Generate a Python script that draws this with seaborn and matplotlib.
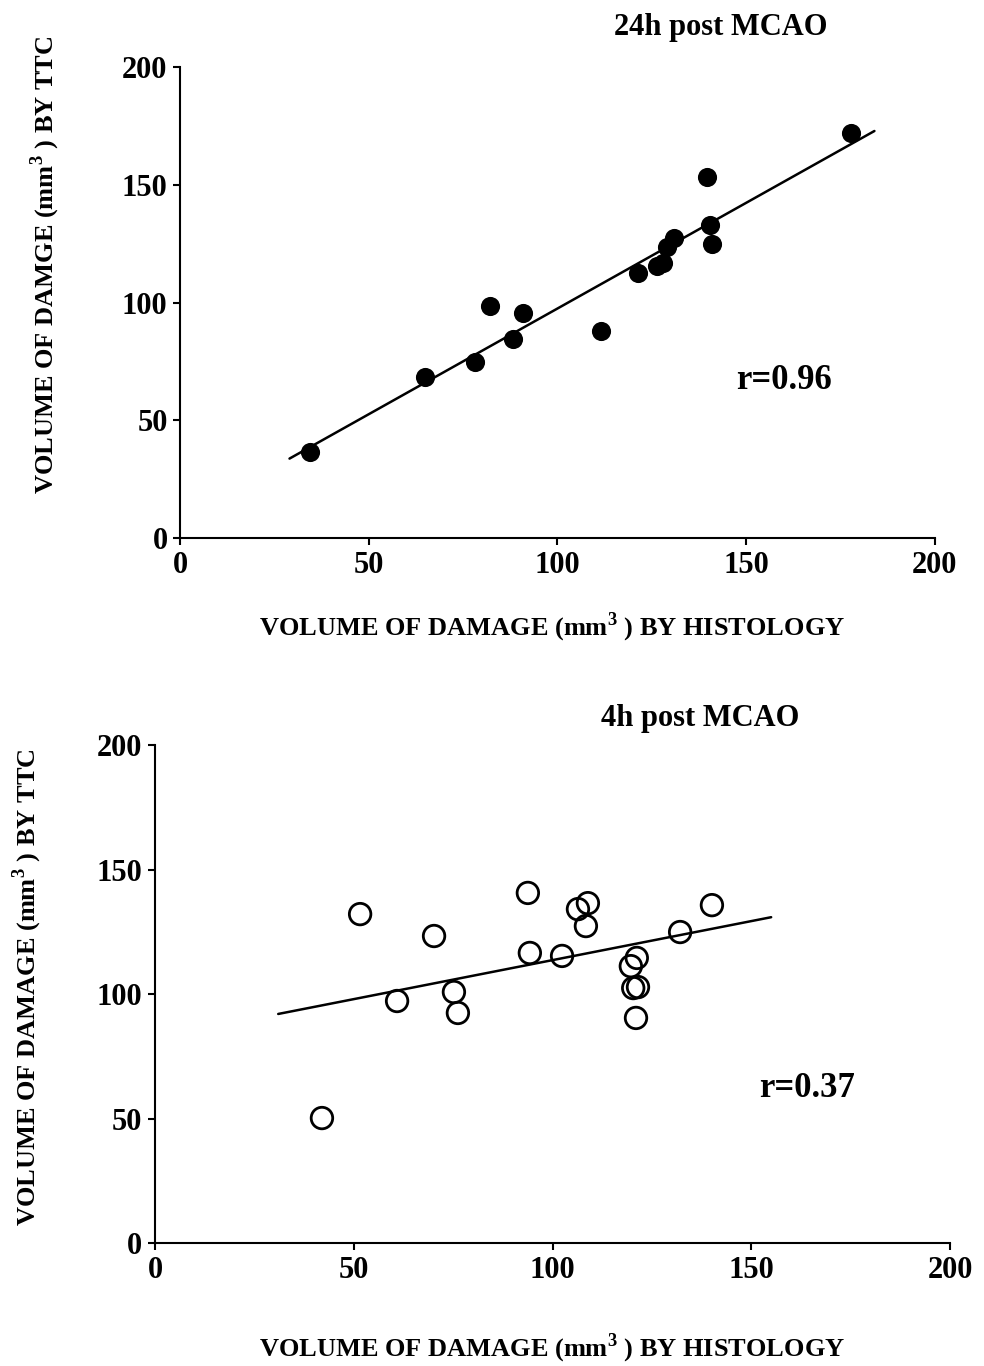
import numpy as np
import pandas as pd
import seaborn as sns
import matplotlib.pyplot as plt

# 24h post MCAO (filled circles)
hist_24h = [34.4, 64.9, 78.1, 82.1, 88.2, 90.9, 111.5, 121.3, 126.4, 128.0,
            129.0, 130.9, 139.6, 140.4, 140.9, 177.7]
ttc_24h = [36.5, 68.4, 74.7, 98.5, 84.5, 95.5, 87.9, 112.5, 115.5, 116.8,
           123.6, 127.4, 153.3, 132.9, 124.8, 172.0]
line_range_24h = [29, 184]

# 4h post MCAO (open circles)
hist_4h = [42.0, 51.6, 60.9, 70.2, 75.2, 76.2, 93.8, 94.3, 102.4, 106.4,
           108.9, 108.4, 119.7, 121.2, 120.3, 121.5, 121.0, 132.1, 140.1]
ttc_4h = [50.2, 132.1, 97.2, 123.3, 100.8, 92.4, 140.6, 116.5, 115.3, 134.1,
          136.5, 127.3, 111.2, 114.5, 102.4, 102.8, 90.4, 124.9, 135.7]
line_range_4h = [31, 155]

ticks = [0, 50, 100, 150, 200]

sns.set_style("ticks")
plt.rcParams['font.family'] = ['Liberation Serif', 'DejaVu Serif']
plt.rcParams['font.weight'] = 'bold'
plt.rcParams['mathtext.fontset'] = 'custom'
plt.rcParams['mathtext.bf'] = 'Liberation Serif:bold'
plt.rcParams['mathtext.rm'] = 'Liberation Serif'
plt.rcParams['text.color'] = 'black'
plt.rcParams['axes.edgecolor'] = 'black'
plt.rcParams['xtick.color'] = 'black'
plt.rcParams['ytick.color'] = 'black'
plt.rcParams['axes.linewidth'] = 1.5
plt.rcParams['xtick.major.width'] = 1.5
plt.rcParams['ytick.major.width'] = 1.5
plt.rcParams['xtick.major.size'] = 5
plt.rcParams['ytick.major.size'] = 5

fig = plt.figure(figsize=(9.84, 13.66), dpi=100)
ax1 = fig.add_axes([0.183, 0.606, 0.767, 0.345])
ax2 = fig.add_axes([0.1575, 0.090, 0.808, 0.3646])


def draw(ax, xs, ys, xr, filled, title, rtext, ylabel, title_xy, r_xy, xlab_y, ylab_xy):
    df = pd.DataFrame({'x': xs, 'y': ys})
    if filled:
        sns.scatterplot(data=df, x='x', y='y', ax=ax, s=190, color='black',
                        edgecolor='black', linewidth=0, zorder=3)
    else:
        sns.scatterplot(data=df, x='x', y='y', ax=ax, s=240, facecolor='none',
                        edgecolor='black', linewidth=2.0, zorder=3)
    slope, icpt = np.polyfit(df['x'], df['y'], 1)
    lx = np.array(xr, dtype=float)
    sns.lineplot(x=lx, y=slope * lx + icpt, ax=ax, color='black', linewidth=1.8)
    ax.set_xlim(0, 200)
    ax.set_ylim(0, 200)
    ax.set_xticks(ticks)
    ax.set_yticks(ticks)
    ax.tick_params(labelsize=22, pad=4)
    for lab in ax.get_xticklabels() + ax.get_yticklabels():
        lab.set_fontweight('bold')
    sns.despine(ax=ax)
    ax.spines['left'].set_bounds(0, 200)
    ax.spines['bottom'].set_bounds(0, 200)
    ax.set_xlabel('')
    ax.set_ylabel('')
    fig.text(title_xy[0], title_xy[1], title, fontsize=22, fontweight='bold',
             ha='center', va='center')
    ax.text(r_xy[0], r_xy[1], rtext, fontsize=25, fontweight='bold',
            ha='center', va='center')
    fig.text(0.561, xlab_y, 'VOLUME OF DAMAGE (mm$^\\mathbf{3}$ ) BY HISTOLOGY',
             fontsize=19, fontweight='bold', ha='center', va='center')
    fig.text(ylab_xy[0], ylab_xy[1], ylabel, fontsize=19, fontweight='bold',
             rotation=90, ha='center', va='center')


draw(ax1, hist_24h, ttc_24h, line_range_24h, True, '24h post MCAO', 'r=0.96',
     'VOLUME OF DAMGE (mm$^\\mathbf{3}$ ) BY TTC', (0.732, 0.980), (160, 67),
     0.541, (0.046, 0.806))
draw(ax2, hist_4h, ttc_4h, line_range_4h, False, '4h post MCAO', 'r=0.37',
     'VOLUME OF DAMAGE (mm$^\\mathbf{3}$ ) BY TTC', (0.712, 0.474), (164, 62),
     0.013, (0.028, 0.277))

fig.savefig('out.png', dpi=100)
